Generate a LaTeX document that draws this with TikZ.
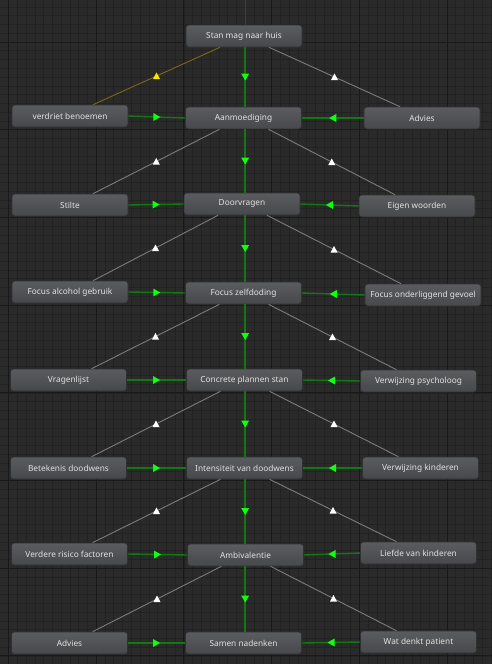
\documentclass[tikz,border=0pt]{standalone}
\usepackage{fontspec}
\setmainfont{Noto Sans}
\usetikzlibrary{calc}
\definecolor{bgc}{HTML}{2A2A2A}
\definecolor{minorc}{HTML}{222222}
\definecolor{majorc}{HTML}{191919}
\definecolor{nodetop}{HTML}{5B5C60}
\definecolor{nodebot}{HTML}{47484B}
\definecolor{nodeborder}{HTML}{303133}
\definecolor{nodetext}{HTML}{E2E2E2}
\definecolor{gdark}{HTML}{127812}
\definecolor{gbright}{HTML}{10FF10}
\definecolor{wgray}{HTML}{7C7C7C}
\definecolor{ydark}{HTML}{7A6A18}
\definecolor{yarrow}{HTML}{FFE600}
\definecolor{topline}{HTML}{3E3E3E}
\begin{document}
\begin{tikzpicture}[x=1pt,y=-1pt,
  state/.style={rounded corners=3pt, top color=nodetop, bottom color=nodebot, draw=nodeborder, line width=0.6pt,
    minimum width=116pt, minimum height=22pt, inner sep=0pt, text=nodetext, font=\fontsize{8.3}{10}\selectfont},
  gline/.style={draw=gdark, line width=1.4pt},
  gvline/.style={draw=gdark, line width=1.7pt},
  wline/.style={draw=wgray, line width=0.9pt},
  yline/.style={draw=ydark, line width=0.9pt},
  gdown/.pic={\fill[gbright] (-4,-3.5) -- (4,-3.5) -- (0,3.5) -- cycle;},
  gright/.pic={\fill[gbright] (-3.5,-4) -- (-3.5,4) -- (3.5,0) -- cycle;},
  gleft/.pic={\fill[gbright] (3.5,-4) -- (3.5,4) -- (-3.5,0) -- cycle;},
  wup/.pic={\fill[white] (-3.5,3) -- (3.5,3) -- (0,-3.5) -- cycle;},
  yup/.pic={\fill[yarrow] (-3.5,3) -- (3.5,3) -- (0,-3.5) -- cycle;},
]
\useasboundingbox (0,0) rectangle (492,664);
\fill[bgc] (0,0) rectangle (492,664);
\begin{scope}
\clip (0,0) rectangle (492,664);
\foreach \j in {-1,...,56} {
  \draw[minorc, line width=0.6pt] ({8.5+\j*8.77},0) -- ({8.5+\j*8.77},664);
}
\foreach \j in {-5,...,71} {
  \draw[minorc, line width=0.6pt] (0,{42+\j*8.77}) -- (492,{42+\j*8.77});
}
\foreach \k in {0,...,5} {
  \draw[majorc, line width=1pt] ({8.5+\k*87.7},0) -- ({8.5+\k*87.7},664);
}
\foreach \k in {-1,...,7} {
  \draw[majorc, line width=1pt] (0,{42+\k*87.7}) -- (492,{42+\k*87.7});
}
\end{scope}

\coordinate (axis) at (245.2,0);
\draw[topline, line width=1pt] (axis) -- (245.2,25);

% nodes
\node[state] (s0) at (244,36) {Stan mag naar huis};
\node[state] (l1) at (70,116) {verdriet benoemen};
\node[state] (s1) at (243.5,118) {Aanmoediging};
\node[state] (r1) at (422,118) {Advies};
\node[state] (l2) at (70,205) {Stilte};
\node[state] (s2) at (242,204) {Doorvragen};
\node[state] (r2) at (417,206) {Eigen woorden};
\node[state] (l3) at (70,292) {Focus alcohol gebruik};
\node[state] (s3) at (243.5,293) {Focus zelfdoding};
\node[state] (r3) at (423,295) {Focus onderliggend gevoel};
\node[state] (l4) at (68.5,380) {Vragenlijst};
\node[state] (s4) at (244.5,380) {Concrete plannen stan};
\node[state] (r4) at (418.5,381) {Verwijzing psycholoog};
\node[state] (l5) at (68.5,468) {Betekenis doodwens};
\node[state] (s5) at (244.5,468) {Intensiteit van doodwens};
\node[state] (r5) at (420.5,468) {Verwijzing kinderen};
\node[state] (l6) at (69.5,554) {Verdere risico factoren};
\node[state] (s6) at (245.5,555) {Ambivalentie};
\node[state] (r6) at (418.5,553) {Liefde van kinderen};
\node[state] (l7) at (69.5,643) {Advies};
\node[state] (s7) at (243.5,643) {Samen nadenken};
\node[state] (r7) at (418.5,642) {Wat denkt patient};

% vertical green transitions
\foreach \a/\b in {s0/s1,s1/s2,s2/s3,s3/s4,s4/s5,s5/s6,s6/s7} {
  \draw[gvline] (\a.south -| axis) -- coordinate[midway] (m) (\b.north -| axis);
  \pic at (m) {gdown};
}
% horizontal green transitions
\foreach \i in {1,...,7} {
  \draw[gline] (l\i.east) -- coordinate[midway] (m) (s\i.west);
  \pic at (m) {gright};
  \draw[gline] (r\i.west) -- coordinate[midway] (m) (s\i.east);
  \pic at (m) {gleft};
}
% diagonal transitions
\draw[yline] ($(s0.south)+(-24,0)$) -- coordinate[midway] (m) ($(l1.north)+(23,0)$);
\pic at (m) {yup};
\draw[wline] ($(s0.south)+(25,0)$) -- coordinate[midway] (m) ($(r1.north)+(-22,0)$);
\pic at (m) {wup};
\foreach \a/\b in {1/2,2/3,3/4,4/5,5/6,6/7} {
  \draw[wline] ($(s\a.south)+(-24,0)$) -- coordinate[midway] (m) ($(l\b.north)+(23,0)$);
  \pic at (m) {wup};
  \draw[wline] ($(s\a.south)+(25,0)$) -- coordinate[midway] (m) ($(r\b.north)+(-22,0)$);
  \pic at (m) {wup};
}
\end{tikzpicture}
\end{document}
